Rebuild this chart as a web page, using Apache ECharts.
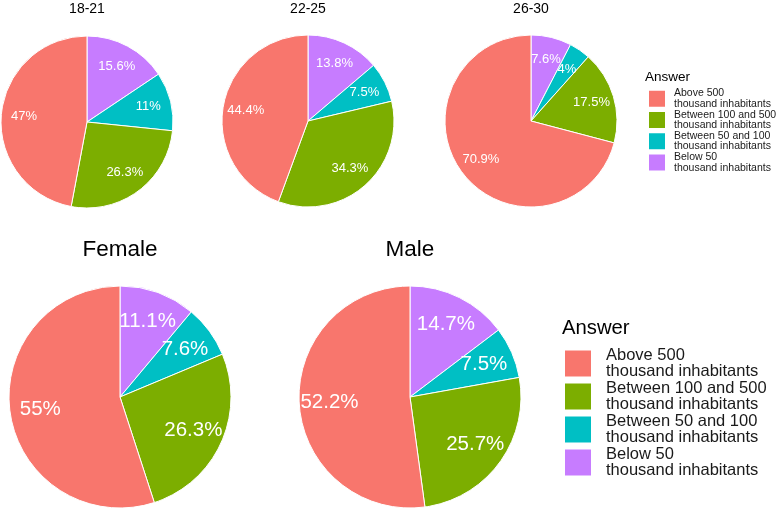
<!DOCTYPE html>
<html>
<head>
<meta charset="utf-8">
<script src="https://cdn.jsdelivr.net/npm/echarts@6/dist/echarts.min.js"></script>
<style>html,body{margin:0;padding:0;background:#fff}#c{width:777px;height:512px}</style>
</head>
<body>
<div id="c"></div>
<script>
// Categories in legend order
const categories = [
  "Above 500\nthousand inhabitants",
  "Between 100 and 500\nthousand inhabitants",
  "Between 50 and 100\nthousand inhabitants",
  "Below 50\nthousand inhabitants"
];
const colors = ["#F8766D", "#7CAE00", "#00BFC4", "#C77CFF"];
const panelTitles = ["18-21", "22-25", "26-30", "Female", "Male"];
// values in legend order: Above 500, 100-500, 50-100, Below 50 (percent)
const age1821 = [47, 26.3, 11, 15.6];
const age2225 = [44.4, 34.3, 7.5, 13.8];
const age2630 = [70.9, 17.5, 4, 7.6];
const female = [55, 26.3, 7.6, 11.1];
const male = [52.2, 25.7, 7.5, 14.7];
const legendTitle = "Answer";

const FONT = "Liberation Sans, Arial, sans-serif";
const panels = [
  {vals: age1821, c: [87, 122], r: 86, fs: 13, tfs: 14, ty: 9},
  {vals: age2225, c: [308, 121], r: 86, fs: 13, tfs: 14, ty: 9},
  {vals: age2630, c: [531, 121], r: 86, fs: 13, tfs: 14, ty: 9},
  {vals: female, c: [120, 397], r: 111, fs: 20.5, tfs: 22.5, ty: 250},
  {vals: male, c: [410, 397], r: 111, fs: 20.5, tfs: 22.5, ty: 250}
];
// Pie drawn clockwise from 12 o'clock: Below 50, 50-100, 100-500, Above 500
const drawOrder = [3, 2, 1, 0];

const series = [];
const graphic = [];
panels.forEach((p, i) => {
  const data = drawOrder.map(k => ({name: categories[k], value: p.vals[k], itemStyle: {color: colors[k]}}));
  series.push({
    type: 'pie', center: p.c, radius: [0, p.r], startAngle: 90, clockwise: true,
    data: data, silent: true, animation: false, avoidLabelOverlap: false,
    label: {show: false}, labelLine: {show: false},
    itemStyle: {borderColor: '#fff', borderWidth: 1}
  });
  // one transparent label ring per slice so no label is hidden by its neighbour
  drawOrder.forEach((k, j) => {
    series.push({
      type: 'pie', center: p.c, radius: [p.r * 0.4, p.r], startAngle: 90, clockwise: true,
      data: drawOrder.map((kk, jj) => ({
        name: categories[kk], value: p.vals[kk],
        itemStyle: {color: 'rgba(0,0,0,0)'},
        label: {show: jj === j}
      })),
      silent: true, animation: false, avoidLabelOverlap: false, minShowLabelAngle: 0,
      labelLayout: {hideOverlap: false},
      itemStyle: {borderWidth: 0},
      label: {position: 'inside', formatter: '{c}%', color: '#fff', fontSize: p.fs, fontFamily: FONT},
      labelLine: {show: false}
    });
  });
  graphic.push({
    type: 'text', x: p.c[0], y: p.ty,
    style: {text: panelTitles[i], fill: '#000', font: p.tfs + 'px ' + FONT, textAlign: 'center', textVerticalAlign: 'middle'}
  });
});
graphic.push({type: 'text', x: 645, y: 77, style: {text: legendTitle, fill: '#000', font: '13.5px ' + FONT, textAlign: 'left', textVerticalAlign: 'middle'}});
graphic.push({type: 'text', x: 562, y: 328.5, style: {text: legendTitle, fill: '#000', font: '20.3px ' + FONT, textAlign: 'left', textVerticalAlign: 'middle'}});

const legendData = categories.map((n, k) => ({name: n, icon: 'rect', itemStyle: {color: colors[k]}}));

const chart = echarts.init(document.getElementById('c'), null, {renderer: 'canvas'});
chart.setOption({
  animation: false,
  backgroundColor: '#fff',
  legend: [
    {data: legendData, orient: 'vertical', left: 647, top: 88, padding: 0, itemGap: 0,
     itemWidth: 18, itemHeight: 18, selectedMode: false,
     textStyle: {fontSize: 10.5, lineHeight: 10.3, color: '#1a1a1a', fontFamily: FONT, padding: [0, 0, 0, 3]}},
    {data: legendData, orient: 'vertical', left: 563, top: 347, padding: 0, itemGap: 0,
     itemWidth: 28, itemHeight: 28, selectedMode: false,
     textStyle: {fontSize: 16.5, lineHeight: 16, color: '#1a1a1a', fontFamily: FONT, padding: [0, 0, 0, 9]}}
  ],
  graphic: graphic,
  series: series
});
</script>
</body>
</html>
